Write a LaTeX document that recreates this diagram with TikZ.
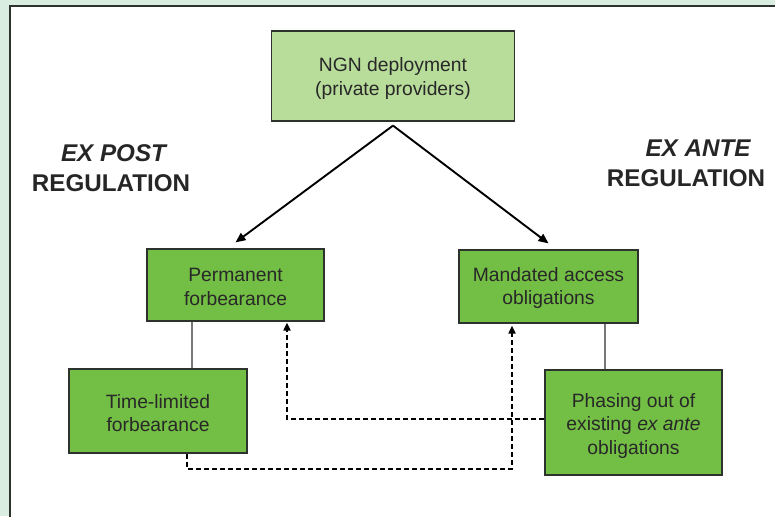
\documentclass[tikz,border=0pt]{standalone}
\usepackage{fontspec}
\setmainfont{Liberation Sans}
\usetikzlibrary{arrows.meta}
\definecolor{panelbg}{RGB}{217,237,224}
\definecolor{frameline}{RGB}{45,50,45}
\definecolor{lightfill}{RGB}{184,220,154}
\definecolor{darkfill}{RGB}{115,190,68}
\definecolor{boxtext}{RGB}{40,40,40}
\definecolor{linkgray}{RGB}{120,120,120}
\tikzset{
  x=1pt, y=-1pt,
  box/.style={draw=frameline, line width=1.2pt, inner sep=0pt},
  topbox/.style={box, fill=lightfill},
  optbox/.style={box, fill=darkfill},
  boxlabel/.style={align=center, inner sep=0pt, text=boxtext,
    font=\fontsize{19.3}{23.5}\selectfont},
  heading/.style={text=black!85, font=\fontsize{24.2}{28}\selectfont\bfseries},
  mainarrow/.style={line width=1.9pt, -{Triangle[length=10pt,width=8.5pt]}},
  dashline/.style={line width=1.8pt, dash pattern=on 5pt off 3pt},
  dasharrow/.style={dashline, -{Triangle[length=8pt,width=7pt]}},
  link/.style={draw=linkgray, line width=1.3pt}
}
\begin{document}
\begin{tikzpicture}
  % canvas and panel frame
  \useasboundingbox (0,0) rectangle (775,516);
  \clip (0,0) rectangle (775,516);
  \fill[panelbg] (0,0) rectangle (775,516);
  \filldraw[fill=white, draw=frameline, line width=1.4pt] (10,6) rectangle (800,540);

  % boxes
  \node[topbox, minimum width=243pt, minimum height=90pt] (ngn) at (393,76) {};
  \node[optbox, minimum width=177pt, minimum height=72pt] (perm) at (235.5,285) {};
  \node[optbox, minimum width=179pt, minimum height=73pt] (mand) at (548.5,286.5) {};
  \node[optbox, minimum width=178pt, minimum height=84pt] (time) at (158,411) {};
  \node[optbox, minimum width=177pt, minimum height=105pt] (phase) at (633.5,422.5) {};

  % box texts, set slightly below each box centre
  \node[boxlabel] (ngntext) at ([yshift=-2.5pt]ngn.center)
    {NGN deployment\\(private providers)};
  \node[boxlabel] (permtext) at ([yshift=-2pt]perm.center)
    {Permanent\\forbearance};
  \node[boxlabel] (mandtext) at ([yshift=-1.5pt]mand.center)
    {Mandated access\\obligations};
  \node[boxlabel] (timetext) at ([yshift=-2pt]time.center)
    {Time-limited\\forbearance};
  \node[boxlabel] (phasetext) at ([yshift=-3.5pt]phase.center)
    {Phasing out of\\existing \textit{ex ante}\\obligations};

  % side headings
  \node[heading] (expost) at (113.5,153) {\itshape EX POST};
  \node[heading] (expostreg) at (111,183) {REGULATION};
  \node[heading] (exante) at (698,148) {\itshape EX ANTE};
  \node[heading] (exantereg) at (686,178) {REGULATION};

  % main branches
  \coordinate (apex) at ([yshift=-4pt]ngn.south);
  \draw[mainarrow] (apex) -- ([yshift=6pt]perm.north);
  \draw[mainarrow] (apex) -- ([yshift=6pt]mand.north);

  % gray links to the variants
  \draw[link] ([xshift=-43.5pt]perm.south) -- ([xshift=-43.5pt]perm.south |- time.north);
  \draw[link] ([xshift=56.5pt]mand.south) -- ([xshift=56.5pt]mand.south |- phase.north);

  % dashed transitions
  \draw[dasharrow] ([yshift=3.5pt]phase.west) -| ([xshift=51.5pt,yshift=-1pt]perm.south);
  \draw[dasharrow] ([xshift=29pt]time.south) -- ++(0,15)
    -| ([xshift=-36.5pt,yshift=-2pt]mand.south);
\end{tikzpicture}
\end{document}
